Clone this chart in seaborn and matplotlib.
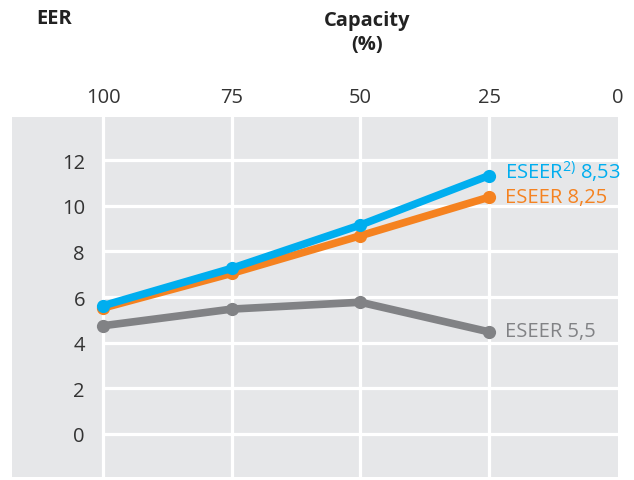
import matplotlib
matplotlib.use("Agg")
import matplotlib.pyplot as plt
import seaborn as sns
import pandas as pd

capacity = [100, 75, 50, 25]
eer_blue = [5.62, 7.26, 9.16, 11.33]
eer_orange = [5.52, 7.04, 8.69, 10.38]
eer_grey = [4.74, 5.47, 5.77, 4.47]
series_names = ["grey", "orange", "blue"]
series_labels = {"blue": "ESEER$^{\\mathrm{2)}}$ 8,53", "orange": "ESEER 8,25", "grey": "ESEER 5,5"}
x_ticks = [100, 75, 50, 25, 0]
y_ticks = [0, 2, 4, 6, 8, 10, 12]
title_left = "EER"
title_center = "Capacity\n(%)"

colors = {"blue": "#00AEEF", "orange": "#F58220", "grey": "#818285"}

sns.set_theme(style="white")
plt.rcParams["font.family"] = ["Open Sans", "DejaVu Sans"]
plt.rcParams["mathtext.fontset"] = "custom"
plt.rcParams["mathtext.rm"] = "Open Sans"

df = pd.DataFrame({
    "capacity": capacity * 3,
    "eer": eer_grey + eer_orange + eer_blue,
    "series": ["grey"] * 4 + ["orange"] * 4 + ["blue"] * 4,
})

fig = plt.figure(figsize=(6.34, 4.81), dpi=100)
ax = fig.add_axes([12 / 634, 3 / 481, (617.6 - 12) / 634, (478 - 118) / 481])
ax.set_facecolor("#E6E7E9")
for s in ax.spines.values():
    s.set_visible(False)

ax.set_xlim(117.75, 0)
ax.set_ylim(-1.9, 13.9)

# grid
for xv in capacity:
    ax.axvline(xv, color="white", lw=2.3, zorder=1)
ax.hlines(y_ticks, 0, 100, color="white", lw=2.3, zorder=1)

sns.lineplot(data=df, x="capacity", y="eer", hue="series", hue_order=series_names,
             palette=colors, linewidth=5.5, marker="o", markersize=9.5,
             markeredgewidth=0, sort=False, legend=False, ax=ax, zorder=3)

ax.set_xlabel("")
ax.set_ylabel("")
ax.xaxis.tick_top()
ax.set_xticks(x_ticks)
ax.set_xticklabels([str(v) for v in x_ticks])
ax.set_yticks(y_ticks)
ax.set_yticklabels([str(v) for v in y_ticks])
ax.tick_params(axis="x", length=0, pad=7.5, labelsize=14.5, labelcolor="#333333")
ax.tick_params(axis="y", length=0, pad=-52.5, labelsize=14.5, labelcolor="#333333")
for lbl in ax.get_yticklabels():
    lbl.set_horizontalalignment("right")

# end labels
offsets = {"blue": 3.5, "orange": 0, "grey": 0.5}
last = {"blue": eer_blue[-1], "orange": eer_orange[-1], "grey": eer_grey[-1]}
for name in series_names:
    ax.annotate(series_labels[name], xy=(capacity[-1], last[name]),
                xytext=(11.5, offsets[name]), textcoords="offset points",
                ha="left", va="center", fontsize=14.5, color=colors[name], zorder=4)

fig.text(36 / 634, 1 - 19 / 481, title_left, ha="left", va="center",
         fontsize=14.5, fontweight="bold", color="#222222")
fig.text(367 / 634, 1 - 33 / 481, title_center, ha="center", va="center",
         fontsize=14.5, fontweight="bold", color="#222222", linespacing=1.25)

fig.savefig("out.png", dpi=100)
